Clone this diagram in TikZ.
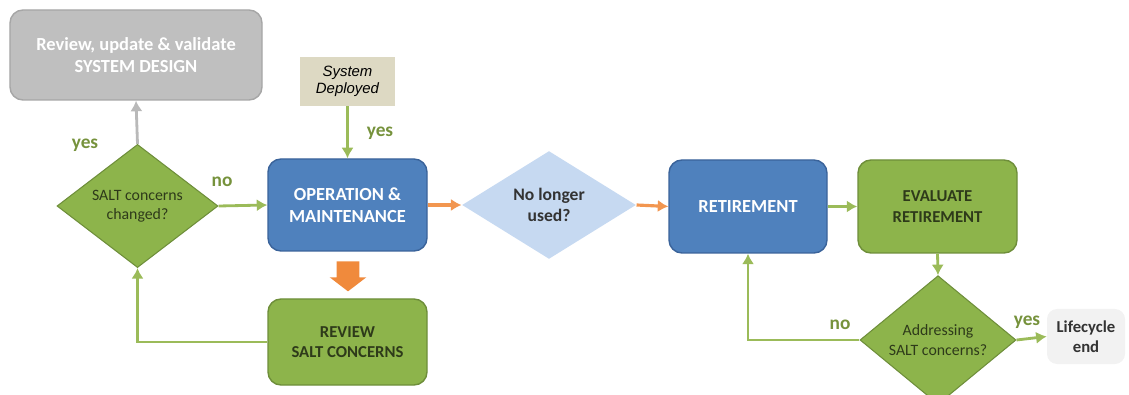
\documentclass[tikz,border=0pt]{standalone}
\usepackage{fontspec}
\setmainfont{Carlito}
\newfontfamily\arialfont{Liberation Sans}
\usetikzlibrary{arrows.meta,shapes.geometric,shapes.arrows,positioning}

\definecolor{opblue}{HTML}{4F81BD}
\definecolor{opblueline}{HTML}{3A639A}
\definecolor{stepgreen}{HTML}{8DB44B}
\definecolor{stepgreenline}{HTML}{6E8E3A}
\definecolor{arrowgreen}{HTML}{9BBB59}
\definecolor{labelgreen}{HTML}{76923C}
\definecolor{darktext}{HTML}{2E3A1A}
\definecolor{paleblue}{HTML}{C6D9F1}
\definecolor{sandbox}{HTML}{DDD9C3}
\definecolor{flowred}{HTML}{F08A3C}

\begin{document}
\begin{tikzpicture}[x=0.2mm, y=-0.2mm,
    stage/.style={draw=opblueline, line width=0.8pt, rounded corners=2.6mm, fill=opblue, text=white, align=center, font=\fontsize{10.5}{12.5}\selectfont\bfseries, minimum width=31.8mm, minimum height=18.4mm},
    greenbox/.style={stage, draw=stepgreenline, fill=stepgreen, text=darktext, font=\fontsize{9.5}{11.5}\selectfont\bfseries},
    choice/.style={diamond, draw=stepgreenline, line width=0.6pt, fill=stepgreen, text=darktext, align=center, inner sep=0pt, font=\fontsize{9}{11}\selectfont},
    garr/.style={-{Latex[length=6pt, width=7pt]}, line width=1.6pt, draw=arrowgreen},
    oarr/.style={-{Latex[length=6pt, width=7pt]}, line width=1.8pt, draw=flowred!90!white},
    lbl/.style={text=labelgreen, font=\fontsize{11}{13}\selectfont\bfseries}
]
\useasboundingbox (0,0) rectangle (1129,395);

\node[stage, draw=gray!70, fill=gray!50, text=white, minimum width=50.4mm, minimum height=18mm] (design) at (136,55) {Review, update \& validate\\SYSTEM DESIGN};
\node[fill=sandbox, minimum width=19mm, minimum height=9.8mm, inner sep=1pt, align=center, font=\arialfont\itshape\fontsize{8.5}{10}\selectfont] (deployed) at (347.5,81.5) {System\\Deployed};

\node[choice, minimum width=32.2mm, minimum height=22.4mm] (changed) at (137.5,206) {SALT concerns\\changed?};
\node[stage] (ops) at (347.5,205) {OPERATION \&\\MAINTENANCE};
\node[single arrow, rotate=-90, fill=flowred, inner xsep=0pt, inner ysep=2.2mm, minimum height=6mm, single arrow head extend=1.4mm, single arrow tip angle=105, single arrow head indent=0pt] (flow) at (348,272) {};
\node[greenbox, minimum height=17.2mm] (review) at (347.5,342) {REVIEW\\SALT CONCERNS};

\node[choice, draw=none, fill=paleblue, text=black!80, font=\fontsize{10}{12}\selectfont\bfseries, minimum width=34.8mm, minimum height=21.6mm] (unused) at (549,205) {No longer\\used?};
\node[stage, minimum width=31.6mm, minimum height=18.6mm] (retire) at (748,206.5) {RETIREMENT};
\node[greenbox, minimum height=18.6mm] (evaluate) at (937.5,206.5) {EVALUATE\\RETIREMENT};
\node[choice, minimum width=31.2mm, minimum height=21.6mm] (addressing) at (938,340) {Addressing\\SALT concerns?};
\node[fill=gray!10, rounded corners=2mm, minimum width=15.6mm, minimum height=11mm, align=center, text=black!80, font=\fontsize{9.5}{11.5}\selectfont\bfseries] (done) at (1086,336.5) {Lifecycle\\end};

% left loop
\draw[-{Latex[length=6pt, width=7pt]}, line width=1.6pt, draw=gray!55] (changed.north) -- (design.south);
\draw[garr] (deployed.south) -- (ops.north);
\draw[garr] (changed.east) -- (ops.west);
\draw[garr] (review.west) -| (changed.south);

% retirement
\draw[oarr] (ops.east) -- (unused.west);
\draw[oarr] (unused.east) -- (retire.west);
\draw[garr] (retire.east) -- (evaluate.west);
\draw[garr] (evaluate.south) -- (addressing.north);
\draw[garr] (addressing.west) -| (retire.south);
\draw[garr] (addressing.east) -- (done.west);

\node[lbl] (yes1) at (85,145) {yes};
\node[lbl] (no1) at (222,182) {no};
\node[lbl] (yes2) at (380,133) {yes};
\node[lbl] (no2) at (840,325) {no};
\node[lbl] (yes3) at (1027,322) {yes};
\end{tikzpicture}
\end{document}
